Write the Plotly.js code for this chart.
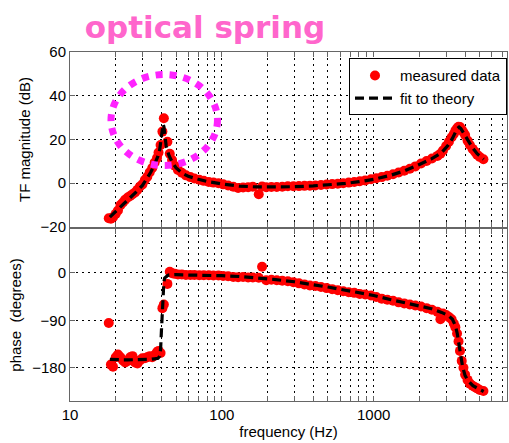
<!DOCTYPE html>
<html>
<head>
<meta charset="utf-8">
<script src="https://cdn.plot.ly/plotly-3.0.1.min.js"></script>
<style>html,body{margin:0;padding:0;background:#fff}#chart{width:509px;height:443px}</style>
</head>
<body>
<div id="chart"></div>
<script>
// measured data
const freq = [18.0, 18.6, 19.2, 20.0, 20.7, 21.5, 22.3, 23.1, 24.0, 24.9,
  25.8, 26.8, 27.8, 28.9, 30.0, 31.1, 32.3, 33.5, 34.8, 36.1,
  37.4, 38.3, 39.5, 40.6, 41.5, 43.8, 45.4, 47.0, 49.0, 51.4,
  54.5, 58, 62, 66, 71, 76, 82, 88, 95, 102,
  110, 119, 128, 138, 149, 160, 175, 184, 196, 212,
  230, 250, 272, 296, 322, 350, 380, 413, 450, 490,
  533, 580, 630, 685, 745, 810, 880, 960, 1040, 1130,
  1230, 1340, 1460, 1590, 1730, 1880, 2050, 2230, 2420, 2630,
  2750, 2860, 3000, 3130, 3260, 3370, 3450, 3540, 3620, 3700,
  3800, 3900, 4000, 4150, 4300, 4480, 4650, 4800, 5000, 5280];
const magnitude = [-16.0, -16.2, -15.5, -14.0, -12.5, -10.0, -8.8, -7.5, -6.5, -5.8,
  -5.0, -4.2, -3.0, -1.5, -0.5, 1.5, 3.0, 5.0, 7.0, 9.5,
  11.5, 14.0, 17.5, 23.6, 29.7, 19.0, 13.5, 10.6, 8.0, 6.1,
  4.8, 3.6, 2.8, 2.2, 1.6, 1.1, 0.6, 0.3, 0.0, -0.5,
  -1.0, -1.6, -2.2, -1.9, -1.8, -1.6, -5.0, -1.5, -1.8, -1.7,
  -1.7, -1.6, -1.4, -1.4, -1.3, -1.2, -1.1, -1.0, -0.8, -0.6,
  -0.4, -0.2, 0.0, 0.3, 0.6, 0.9, 1.3, 1.8, 2.3, 2.8,
  3.4, 4.1, 4.9, 5.7, 6.6, 7.7, 9.0, 10.2, 11.3, 12.5,
  13.5, 15.0, 17.0, 19.0, 21.0, 22.5, 24.0, 25.1, 25.8, 25.7,
  24.5, 23.3, 22.0, 19.5, 17.5, 15.7, 14.4, 13.0, 12.0, 11.0];
const phase = [-95, -174, -178, -160, -155, -160, -166, -170, -167, -160,
  -158, -170, -172, -166, -162, -162, -160, -158, -160, -156,
  -150, -148, -152, -67, -60, -21, 2, -1, -2, -3,
  -3, -4, -4, -4, -4.5, -4.5, -4.5, -5, -5, -6,
  -6.5, -8, -8.5, -8, -9, -9, -9.5, 11.4, -14, -13,
  -14, -15, -16, -18, -20, -22, -24, -25, -27, -29,
  -31, -33, -35, -37, -38, -40, -41, -43, -46, -49,
  -51, -53, -56, -58, -60, -62, -64, -67, -70, -74,
  -88, -77, -80, -84, -88, -96, -103, -115, -130, -148,
  -167, -180, -193, -203, -210, -214, -217, -219, -222, -224];

// fit to theory
const freqFit = [18.3, 20, 22, 24, 26, 28, 30, 32, 34, 36,
  38, 39, 39.5, 40, 40.5, 41, 41.5, 42, 43, 44,
  45, 47, 50, 55, 60, 70, 80, 100, 130, 170,
  220, 300, 400, 500, 650, 800, 1000, 1300, 1600, 2000,
  2400, 2800, 3100, 3300, 3450, 3550, 3650, 3750, 3850, 4000,
  4200, 4500, 4800, 5100, 5300];
const magnitudeFit = [-15.5, -13, -10, -7.5, -5.5, -3.2, -1, 2, 5, 8.5,
  12.5, 15.5, 18, 21, 24, 27, 26, 22, 17, 14.5,
  12.5, 9.8, 7, 4.5, 3.2, 1.8, 0.8, -0.3, -1.3, -1.7,
  -1.8, -1.6, -1.2, -0.8, -0.1, 0.7, 1.8, 3.7, 5.7, 8.6,
  11.1, 14, 17.5, 20.5, 23.5, 25, 25.7, 25, 23.7, 21.8,
  19, 16, 13.5, 11.8, 11];
const phaseFit = [-164, -165, -165, -165, -165, -165, -165, -164, -164, -163,
  -162, -158, -145, -110, -70, -35, -18, -10, -7, -5,
  -4, -3.5, -3.5, -4, -4, -4.5, -4.5, -5.5, -7, -9.5,
  -12.5, -17, -22, -27, -33, -38, -43, -51, -57, -63,
  -68, -75, -81, -88, -100, -115, -135, -158, -178, -195,
  -205, -214, -219, -223, -225];

// tick labels
const xTickVals = [10,20,30,40,50,60,70,80,90,100,200,300,400,500,600,700,800,900,1000,2000,3000,4000,5000,6000,7000];
const xTickText = xTickVals.map(v => (v === 10 || v === 100 || v === 1000) ? String(v) : '');
const magTicks = [-20, 0, 20, 40, 60];
const phaseTicks = [-180, -90, 0];

const dotStyle = {color: '#ff0000', size: 10};
const lineStyle = {color: '#000000', width: 3.2, dash: '9px,5px'};

const traces = [
  {x: freq, y: magnitude, xaxis: 'x', yaxis: 'y', mode: 'markers', name: 'measured data', marker: dotStyle},
  {x: freqFit, y: magnitudeFit, xaxis: 'x', yaxis: 'y', mode: 'lines', name: 'fit to theory', line: lineStyle},
  {x: freq, y: phase, xaxis: 'x2', yaxis: 'y2', mode: 'markers', showlegend: false, marker: dotStyle},
  {x: freqFit, y: phaseFit, xaxis: 'x2', yaxis: 'y2', mode: 'lines', showlegend: false, line: lineStyle}
];

const frameColor = '#666666';
const baseAxis = {
  ticks: 'inside', ticklen: 5, tickcolor: frameColor, tickwidth: 1,
  showline: true, linecolor: frameColor, linewidth: 1, mirror: 'ticks',
  showgrid: true, gridcolor: '#000000', gridwidth: 1, griddash: '2px,4px',
  zeroline: false, tickfont: {size: 15, color: '#000'}
};
const xRange = [1, Math.log10(7550)];

const layout = {
  width: 509, height: 443,
  margin: {l: 70, r: 2, t: 52, b: 42},
  paper_bgcolor: '#ffffff', plot_bgcolor: '#ffffff',
  font: {family: 'Liberation Sans, Arial, Helvetica, sans-serif', size: 15, color: '#000'},
  title: {
    text: 'optical spring',
    font: {family: 'DejaVu Sans, sans-serif', size: 31, color: '#ff66cc', weight: 'bold'},
    xref: 'container', x: 205 / 509, xanchor: 'center',
    yref: 'container', y: 1 - 27 / 443, yanchor: 'middle'
  },
  xaxis: Object.assign({}, baseAxis, {type: 'log', range: xRange, anchor: 'y', domain: [0, 1],
    tickvals: xTickVals, ticktext: xTickText, showticklabels: false, matches: 'x2'}),
  xaxis2: Object.assign({}, baseAxis, {type: 'log', range: xRange, anchor: 'y2', domain: [0, 1],
    tickvals: xTickVals, ticktext: xTickText,
    title: {text: 'frequency (Hz)', font: {size: 15}, standoff: 4}}),
  yaxis: Object.assign({}, baseAxis, {range: [-20, 60], domain: [0.4986, 1], anchor: 'x',
    tickvals: magTicks, title: {text: 'TF magnitude (dB)', font: {size: 15}, standoff: 6}}),
  yaxis2: Object.assign({}, baseAxis, {range: [-243, 83], domain: [0, 0.4928], anchor: 'x2',
    tickvals: phaseTicks, title: {text: 'phase  (degrees)', font: {size: 15}, standoff: 6}}),
  showlegend: true,
  legend: {
    x: 1, xanchor: 'right', xref: 'paper', y: 0.982, yanchor: 'top', yref: 'paper',
    bgcolor: '#ffffff', bordercolor: '#000000', borderwidth: 1,
    font: {size: 15, color: '#000'}, itemwidth: 40, tracegroupgap: 0
  },
  shapes: [{
    type: 'circle', xref: 'paper', yref: 'paper',
    x0: 0.0938, x1: 0.3375, y0: 0.6748, y1: 0.9355,
    line: {color: '#ff22ff', width: 7, dash: '7px,7px'}
  }]
};

Plotly.newPlot('chart', traces, layout, {displayModeBar: false, staticPlot: true});
</script>
</body>
</html>
